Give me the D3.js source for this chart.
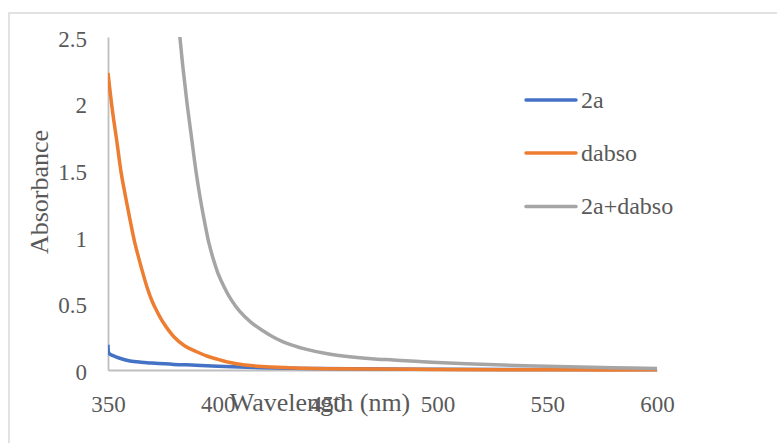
<!DOCTYPE html>
<html>
<head>
<meta charset="utf-8">
<script src="https://cdn.jsdelivr.net/npm/d3@7"></script>
<style>
  html, body { margin: 0; padding: 0; background: #fff; }
  svg { display: block; }
  svg text { font-family: "Liberation Serif", "Times New Roman", "DejaVu Serif", serif !important; fill: #595959; }
</style>
</head>
<body>
<svg id="chart" width="777" height="443"></svg>
<script>
// ---- data ----
const xTicks = [350, 400, 450, 500, 550, 600];
const yTicks = [0, 0.5, 1, 1.5, 2, 2.5];
const seriesNames = ["2a", "dabso", "2a+dabso"];
const seriesColors = ["#4472C4", "#ED7D31", "#A5A5A5"];

const wl2a = [350, 350.3, 350.8, 352, 355, 360, 365, 370, 380, 390, 400, 410, 420, 440, 460, 500, 550, 600];
const abs2a = [0.19, 0.13, 0.12, 0.11, 0.09, 0.068, 0.058, 0.052, 0.042, 0.036, 0.028, 0.022, 0.017, 0.012, 0.009, 0.006, 0.004, 0.003];

const wlDabso = [350, 352, 354, 356, 358, 360, 362, 364, 366, 368, 370, 372, 375, 380, 385, 390, 395, 400, 405, 410, 415, 420, 430, 440, 450, 470, 500, 530, 560, 600];
const absDabso = [2.23, 1.95, 1.72, 1.48, 1.30, 1.13, 0.97, 0.84, 0.72, 0.61, 0.52, 0.45, 0.36, 0.25, 0.18, 0.14, 0.105, 0.08, 0.058, 0.043, 0.033, 0.026, 0.018, 0.013, 0.010, 0.007, 0.004, 0.002, 0.001, 0.001];

const wlMix = [380, 382, 384, 386, 388, 390, 392, 394, 396, 398, 400, 403, 406, 410, 415, 420, 425, 430, 440, 450, 460, 470, 480, 490, 500, 520, 540, 560, 580, 600];
const absMix = [3.0, 2.62, 2.29, 2.0, 1.75, 1.5, 1.29, 1.11, 0.95, 0.83, 0.73, 0.62, 0.53, 0.44, 0.36, 0.30, 0.25, 0.21, 0.157, 0.122, 0.10, 0.085, 0.075, 0.065, 0.057, 0.043, 0.032, 0.024, 0.017, 0.012];

// ---- layout ----
const svg = d3.select("#chart");
const mLeft = 108, mRight = 657, mTop = 37, mBottom = 370;
const FONT = "'Liberation Serif', 'Times New Roman', serif";

const x = d3.scaleLinear().domain([350, 600]).range([mLeft, mRight]);
const y = d3.scaleLinear().domain([0, 2.5]).range([mBottom, mTop]);

// outer chart border
svg.append("rect")
  .attr("x", 9).attr("y", 13).attr("width", 820).attr("height", 500)
  .attr("fill", "none").attr("stroke", "#D9D9D9").attr("stroke-width", 1.5);

svg.append("defs").append("clipPath").attr("id", "plotclip")
  .append("rect").attr("x", mLeft).attr("y", mTop).attr("width", mRight - mLeft + 2).attr("height", mBottom - mTop + 2);

// axes
const yAxis = d3.axisLeft(y).tickValues(yTicks).tickSize(0).tickPadding(21).tickFormat(d3.format("~g"));
const gy = svg.append("g").attr("transform", `translate(${mLeft},0)`).call(yAxis)
  .attr("font-family", FONT);
gy.select(".domain").attr("stroke", "#BFBFBF").attr("stroke-width", 1.8);
gy.selectAll(".tick text").attr("font-size", 23).attr("dy", "0.4em").attr("fill", "#595959");

const xAxis = d3.axisBottom(x).tickValues(xTicks).tickSize(0).tickPadding(26).tickFormat(d3.format("d"));
const gx = svg.append("g").attr("transform", `translate(0,${mBottom})`).call(xAxis)
  .attr("font-family", FONT);
gx.select(".domain").attr("stroke", "#BFBFBF").attr("stroke-width", 1.8);
gx.selectAll(".tick text").attr("font-size", 23).attr("fill", "#595959");

// series
const line = d3.line().x(d => x(d[0])).y(d => y(d[1])).curve(d3.curveCatmullRom.alpha(0.5));
const series = [
  d3.zip(wl2a, abs2a),
  d3.zip(wlDabso, absDabso),
  d3.zip(wlMix, absMix)
];
const gLines = svg.append("g").attr("clip-path", "url(#plotclip)");
series.forEach((s, i) => {
  gLines.append("path").datum(s)
    .attr("d", line)
    .attr("fill", "none")
    .attr("stroke", seriesColors[i])
    .attr("stroke-width", 3.5)
    .attr("stroke-linejoin", "round");
});

// axis titles
svg.append("text")
  .attr("x", 320).attr("y", 411)
  .attr("text-anchor", "middle").attr("font-size", 26).attr("font-family", FONT)
  .text("Wavelength (nm)");
svg.append("text")
  .attr("transform", "translate(48,192) rotate(-90)")
  .attr("text-anchor", "middle").attr("font-size", 26).attr("font-family", FONT)
  .text("Absorbance");

// legend
const legendY = [100, 153, 206.5];
seriesNames.forEach((n, i) => {
  const g = svg.append("g");
  g.append("line")
    .attr("x1", 526).attr("x2", 576).attr("y1", legendY[i]).attr("y2", legendY[i])
    .attr("stroke", seriesColors[i]).attr("stroke-width", 3.5).attr("stroke-linecap", "round");
  g.append("text")
    .attr("x", 581).attr("y", legendY[i]).attr("dy", "0.33em")
    .attr("font-size", 24).attr("font-family", FONT)
    .text(n);
});
</script>
</body>
</html>
